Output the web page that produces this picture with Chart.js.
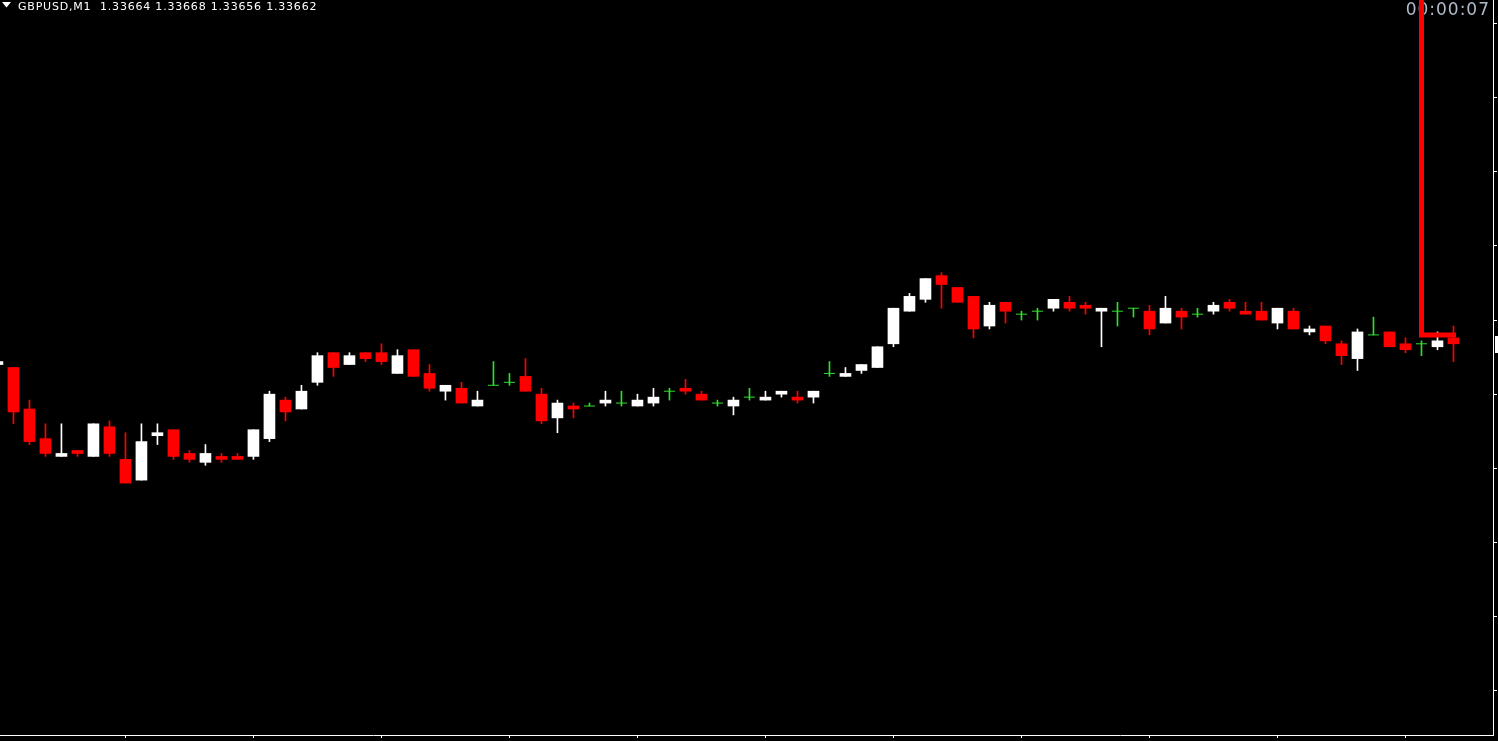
<!DOCTYPE html>
<html>
<head>
<meta charset="utf-8">
<title>GBPUSD,M1</title>
<script src="https://cdn.jsdelivr.net/npm/chart.js@4.4.1/dist/chart.umd.min.js"></script>
<style>
    html, body { margin: 0; padding: 0; background: #000; overflow: hidden; }
    canvas { display: block; }
</style>
</head>
<body>
<canvas id="candleChart" width="1498" height="741"></canvas>
<script>
// GBPUSD M1 candles, oldest first. The first bar is the one cut off at the left edge.
const symbolTitle = 'GBPUSD,M1';
const timerText = '00:00:07';

const openPrices = [
    1.33655,
    1.33654, 1.33640, 1.33630, 1.33624, 1.33626, 1.33624, 1.33634, 1.33623, 1.33616, 1.33631,
    1.33633, 1.33625, 1.33622, 1.33624, 1.33624, 1.33624, 1.33630, 1.33643, 1.33640, 1.33649,
    1.33659, 1.33655, 1.33659, 1.33659, 1.33652, 1.33660, 1.33652, 1.33646, 1.33647, 1.33641,
    1.33648, 1.33649, 1.33651, 1.33645, 1.33637, 1.33641, 1.33641, 1.33642, 1.33642, 1.33641,
    1.33642, 1.33646, 1.33647, 1.33645, 1.33642, 1.33641, 1.33644, 1.33643, 1.33645, 1.33644,
    1.33644, 1.33652, 1.33651, 1.33653, 1.33654, 1.33662, 1.33673, 1.33677, 1.33685, 1.33681,
    1.33678, 1.33668, 1.33676, 1.33672, 1.33673, 1.33674, 1.33676, 1.33675, 1.33673, 1.33673,
    1.33674, 1.33673, 1.33669, 1.33673, 1.33672, 1.33673, 1.33676, 1.33673, 1.33673, 1.33669,
    1.33673, 1.33666, 1.33668, 1.33662, 1.33657, 1.33665, 1.33666, 1.33662, 1.33662, 1.33661,
    1.33664,
];
const highPrices = [
    1.33656,
    1.33654, 1.33643, 1.33635, 1.33635, 1.33626, 1.33635, 1.33636, 1.33632, 1.33635, 1.33635,
    1.33633, 1.33626, 1.33628, 1.33625, 1.33625, 1.33633, 1.33646, 1.33644, 1.33648, 1.33659,
    1.33659, 1.33659, 1.33659, 1.33662, 1.33660, 1.33660, 1.33655, 1.33648, 1.33649, 1.33646,
    1.33656, 1.33652, 1.33657, 1.33647, 1.33643, 1.33642, 1.33642, 1.33646, 1.33646, 1.33645,
    1.33647, 1.33647, 1.33650, 1.33646, 1.33643, 1.33644, 1.33647, 1.33646, 1.33646, 1.33646,
    1.33646, 1.33656, 1.33654, 1.33655, 1.33661, 1.33674, 1.33679, 1.33684, 1.33686, 1.33681,
    1.33678, 1.33676, 1.33676, 1.33673, 1.33674, 1.33677, 1.33678, 1.33676, 1.33674, 1.33676,
    1.33674, 1.33675, 1.33678, 1.33674, 1.33674, 1.33676, 1.33677, 1.33676, 1.33676, 1.33674,
    1.33674, 1.33668, 1.33668, 1.33663, 1.33667, 1.33671, 1.33666, 1.33664, 1.33663, 1.33666,
    1.33668,
];
const lowPrices = [
    1.33655,
    1.33635, 1.33628, 1.33624, 1.33624, 1.33624, 1.33624, 1.33624, 1.33615, 1.33616, 1.33628,
    1.33623, 1.33622, 1.33621, 1.33622, 1.33623, 1.33623, 1.33629, 1.33636, 1.33640, 1.33648,
    1.33651, 1.33655, 1.33656, 1.33655, 1.33652, 1.33651, 1.33646, 1.33643, 1.33642, 1.33641,
    1.33648, 1.33648, 1.33646, 1.33635, 1.33632, 1.33637, 1.33641, 1.33641, 1.33641, 1.33641,
    1.33641, 1.33643, 1.33645, 1.33643, 1.33641, 1.33638, 1.33643, 1.33643, 1.33644, 1.33642,
    1.33642, 1.33651, 1.33651, 1.33652, 1.33654, 1.33661, 1.33673, 1.33676, 1.33674, 1.33676,
    1.33664, 1.33667, 1.33669, 1.33670, 1.33670, 1.33673, 1.33673, 1.33672, 1.33661, 1.33668,
    1.33671, 1.33665, 1.33669, 1.33667, 1.33671, 1.33672, 1.33673, 1.33672, 1.33670, 1.33667,
    1.33667, 1.33665, 1.33662, 1.33655, 1.33653, 1.33665, 1.33661, 1.33659, 1.33658, 1.33660,
    1.33656,
];
const closePrices = [
    1.33656,
    1.33639, 1.33629, 1.33625, 1.33625, 1.33625, 1.33635, 1.33625, 1.33615, 1.33629, 1.33632,
    1.33624, 1.33623, 1.33625, 1.33623, 1.33623, 1.33633, 1.33645, 1.33639, 1.33646, 1.33658,
    1.33654, 1.33658, 1.33657, 1.33656, 1.33658, 1.33651, 1.33647, 1.33648, 1.33642, 1.33643,
    1.33648, 1.33649, 1.33646, 1.33636, 1.33642, 1.33640, 1.33641, 1.33643, 1.33642, 1.33643,
    1.33644, 1.33646, 1.33646, 1.33643, 1.33642, 1.33643, 1.33644, 1.33644, 1.33646, 1.33643,
    1.33646, 1.33652, 1.33652, 1.33655, 1.33661, 1.33674, 1.33678, 1.33684, 1.33682, 1.33676,
    1.33667, 1.33675, 1.33673, 1.33672, 1.33673, 1.33677, 1.33674, 1.33674, 1.33674, 1.33673,
    1.33674, 1.33667, 1.33674, 1.33671, 1.33672, 1.33675, 1.33674, 1.33672, 1.33670, 1.33674,
    1.33667, 1.33667, 1.33663, 1.33658, 1.33666, 1.33665, 1.33661, 1.33660, 1.33662, 1.33663,
    1.33662,
];

// price scale and time scale tick marks (labels are off screen)
const priceTicks = [1.33770, 1.33745, 1.33720, 1.33695, 1.33670, 1.33645, 1.33620, 1.33595, 1.33570, 1.33545];
const timeTicks = [7, 15, 23, 31, 39, 47, 55, 63, 71, 79, 87];

// red timer line: drops at bar 88 and runs right at this price
const timerLineBars = [88, 88, 90.16];
const timerLinePrices = [1.33800, 1.33665, 1.33665];

const bullColor = '#ffffff';
const bearColor = '#ff0000';
const dojiColor = '#2ee02e';

const barX = openPrices.map((_, i) => i - 1);
const candleColor = openPrices.map((o, i) => {
    if (closePrices[i] > o) return bullColor;
    if (closePrices[i] < o) return bearColor;
    return dojiColor;
});

const bodyData = barX.map((x, i) => ({
    x: x,
    y: openPrices[i] === closePrices[i] ? null : [openPrices[i], closePrices[i]],
}));
const wickData = barX.map((x, i) => ({ x: x, y: [lowPrices[i], highPrices[i]] }));
const dojiData = barX.map((x, i) => ({
    x: x,
    y: openPrices[i] === closePrices[i] ? closePrices[i] : null,
}));
const timerLineData = timerLineBars.map((x, i) => ({ x: x, y: timerLinePrices[i] }));

const last = openPrices.length - 1;
const lastQuote = [openPrices[last], highPrices[last], lowPrices[last], closePrices[last]].map(v => v.toFixed(5));

// header text, timer and the bid stub on the price scale
const terminalOverlay = {
    id: 'terminalOverlay',
    beforeDatasetsDraw(chart) {
        const ctx = chart.ctx;
        ctx.save();
        ctx.fillStyle = '#ffffff';
        ctx.beginPath();
        ctx.moveTo(2, 2);
        ctx.lineTo(11, 2);
        ctx.lineTo(6.5, 7.5);
        ctx.closePath();
        ctx.fill();
        ctx.font = '11px "DejaVu Sans"';
        ctx.letterSpacing = '0.8px';
        ctx.textBaseline = 'alphabetic';
        ctx.fillText(symbolTitle + '  ' + lastQuote.join(' '), 18, 10);
        ctx.font = '17px "DejaVu Sans"';
        ctx.letterSpacing = '1px';
        ctx.fillStyle = '#b0bac8';
        ctx.textAlign = 'right';
        ctx.fillText(timerText, 1490, 15);
        ctx.restore();
    },
    afterDraw(chart) {
        const ctx = chart.ctx;
        const y = chart.scales.y.getPixelForValue(closePrices[last]);
        ctx.save();
        ctx.fillStyle = '#ffffff';
        ctx.fillRect(chart.chartArea.right + 2, Math.round(y) - 8, 10, 17);
        ctx.restore();
    },
};

const ctxCandles = document.getElementById('candleChart').getContext('2d');
const candleChart = new Chart(ctxCandles, {
    type: 'bar',
    data: {
        datasets: [
            {
                type: 'line',
                data: timerLineData,
                borderColor: bearColor,
                borderWidth: 5,
                borderJoinStyle: 'miter',
                pointRadius: 0,
                fill: false,
            },
            {
                type: 'line',
                data: dojiData,
                showLine: false,
                pointStyle: 'line',
                pointRadius: 5.5,
                pointBorderWidth: 1,
                pointBorderColor: dojiColor,
                pointBackgroundColor: dojiColor,
            },
            {
                data: bodyData,
                backgroundColor: candleColor,
                barThickness: 11,
                maxBarThickness: 11,
                grouped: false,
            },
            {
                data: wickData,
                backgroundColor: candleColor,
                barThickness: 1,
                maxBarThickness: 1,
                grouped: false,
            },
        ],
    },
    options: {
        responsive: false,
        animation: false,
        devicePixelRatio: 1,
        layout: { autoPadding: false, padding: { left: 0, top: 0, right: 1, bottom: 3 } },
        plugins: {
            legend: { display: false },
            tooltip: { enabled: false },
        },
        scales: {
            x: {
                type: 'linear',
                min: -0.84,
                max: 92.47,
                offset: false,
                ticks: { display: false },
                afterBuildTicks: axis => { axis.ticks = timeTicks.map(v => ({ value: v })); },
                grid: { offset: false, drawOnChartArea: false, drawTicks: true, tickLength: 3, color: '#ffffff' },
                border: { display: true, color: '#ffffff', width: 1 },
            },
            y: {
                type: 'linear',
                position: 'right',
                min: 1.33530,
                max: 1.33778,
                beginAtZero: false,
                ticks: { display: false },
                afterBuildTicks: axis => { axis.ticks = priceTicks.map(v => ({ value: v })); },
                grid: { drawOnChartArea: false, drawTicks: true, tickLength: 4, color: '#ffffff' },
                border: { display: true, color: '#ffffff', width: 1 },
            },
        },
    },
    plugins: [terminalOverlay],
});
</script>
</body>
</html>
